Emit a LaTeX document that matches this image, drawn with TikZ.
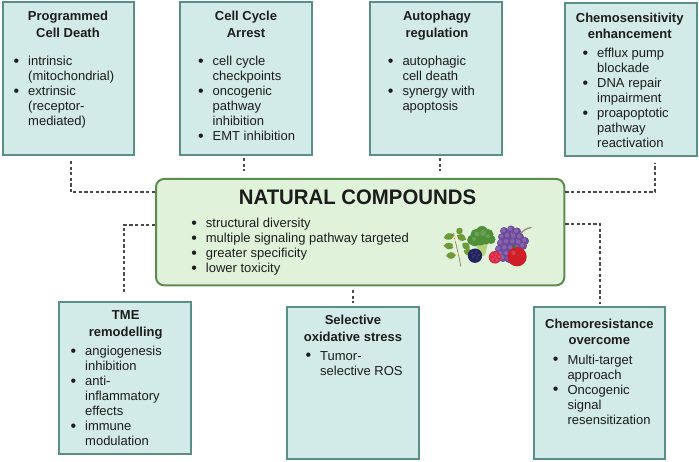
\documentclass[tikz,border=0pt]{standalone}
\usepackage{fontspec}
\setmainfont{Liberation Sans}
\newfontface\corefont[FakeStretch=0.97]{Liberation Sans Bold}
\definecolor{tealfill}{HTML}{D2EBE8}
\definecolor{tealedge}{HTML}{5A8F89}
\definecolor{corefill}{HTML}{E0F3DA}
\definecolor{coreedge}{HTML}{5C8C50}
\definecolor{ink}{HTML}{1C1C1C}
\definecolor{linkink}{HTML}{4A4A4A}
\definecolor{leafgreen}{HTML}{6F9A3A}
\definecolor{brocdark}{HTML}{4F8F3A}
\definecolor{broclight}{HTML}{B5D07A}
\definecolor{berry}{HTML}{23235F}
\definecolor{rasp}{HTML}{DB2B45}
\definecolor{grape}{HTML}{6E4A9A}
\definecolor{grapelight}{HTML}{8565AE}
\definecolor{applered}{HTML}{CF1E28}
\definecolor{twig}{HTML}{A08A72}
% Helpers for the two kinds of text block
\newcommand\ttl[1]{\begin{tabular}[t]{@{}c@{}}#1\end{tabular}}
\newcommand\blist[1]{\begin{tabular}[t]{@{}l@{}}#1\end{tabular}}
\newcommand\bi{\llap{\raisebox{-1pt}{\fontsize{16}{15}\selectfont\textbullet}\hspace{9pt}}}
\tikzset{
  tealbox/.style={draw=tealedge,fill=tealfill,line width=2pt,rectangle,inner sep=0pt},
  corebox/.style={draw=coreedge,fill=corefill,line width=2pt,rectangle,rounded corners=8pt,inner sep=0pt},
  boxtitle/.style={anchor=base,inner sep=0pt,text=ink,font=\fontsize{13}{16.4}\selectfont\bfseries},
  boxbody/.style={anchor=base west,inner sep=0pt,text=ink,font=\fontsize{13}{15}\selectfont},
  link/.style={draw=linkink,line width=2pt,dash pattern=on 3.2pt off 2.4pt},
}
\begin{document}
\begin{tikzpicture}[x=1pt,y=-1pt]
\useasboundingbox (0,0) rectangle (699,462);

% Boxes
\node[tealbox,minimum width=131.5pt,minimum height=152.5pt] (b1) at (68.25,78.75) {};
\node[tealbox,minimum width=131.7pt,minimum height=152.5pt] (b2) at (245.85,78.75) {};
\node[tealbox,minimum width=132.2pt,minimum height=152.5pt] (b3) at (435.6,78.75) {};
\node[tealbox,minimum width=132pt,minimum height=152.2pt] (b4) at (630.7,79.6) {};
\node[corebox,minimum width=408.3pt,minimum height=106.3pt] (core) at (360.15,232.15) {};
\node[tealbox,minimum width=131.7pt,minimum height=152.3pt] (b5) at (125.15,377.85) {};
\node[tealbox,minimum width=131.7pt,minimum height=152.3pt] (b6) at (353.15,383.15) {};
\node[tealbox,minimum width=131.3pt,minimum height=152.3pt] (b7) at (599.65,383.15) {};

% Dashed connectors
\draw[link,shorten <=5pt] ([xshift=2.75pt]b1.south) |- ([yshift=39.65pt]core.west);
\draw[link,shorten <=2pt,shorten >=7pt] ([xshift=-1.5pt]b2.south) -- ([xshift=-1.5pt]b2.south |- core.north);
\draw[link,shorten <=2pt,shorten >=7pt] ([xshift=4.1pt]b3.south) -- ([xshift=4.1pt]b3.south |- core.north);
\draw[link,shorten >=6.5pt] ([yshift=40.15pt]core.east) -| ([xshift=24.3pt]b4.south);
\draw[link,shorten >=6.7pt] ([yshift=7.15pt]core.west) -| ([xshift=-1.15pt]b5.north);
\draw[link,shorten <=3.7pt,shorten >=3pt] (b6.north |- core.south) -- (b6.north);
\draw[link,shorten >=2pt] ([yshift=8.15pt]core.east) -| (b7.north);

% Titles
\node[boxtitle] (t1) at (68,21) {\ttl{Programmed\\Cell Death}};
\node[boxtitle] (t2) at (246,21) {\ttl{Cell Cycle\\Arrest}};
\node[boxtitle] (t3) at (437,21) {\ttl{Autophagy\\regulation}};
\node[boxtitle] (t4) at (629.7,22.5) {\ttl{Chemosensitivity\\enhancement}};
\node[boxtitle] (t5) at (125.7,320) {\ttl{TME\\remodelling}};
\node[boxtitle] (t6) at (353,325) {\ttl{Selective\\oxidative stress}};
\node[boxtitle] (t7) at (599.3,328.3) {\ttl{Chemoresistance\\overcome}};
\node[boxtitle,font=\fontsize{21}{26}\corefont] (tc) at (357.5,205) {NATURAL COMPOUNDS};

% Bullet lists
\node[boxbody] (l1) at (28,66) {\blist{\bi intrinsic\\(mitochondrial)\\\bi extrinsic\\(receptor-\\mediated)}};
\node[boxbody] (l2) at (212.5,66) {\blist{\bi cell cycle\\checkpoints\\\bi oncogenic\\pathway\\inhibition\\\bi EMT inhibition}};
\node[boxbody] (l3) at (402.3,66) {\blist{\bi autophagic\\cell death\\\bi synergy with\\apoptosis}};
\node[boxbody] (l4) at (597,57.7) {\blist{\bi efflux pump\\blockade\\\bi DNA repair\\impairment\\\bi proapoptotic\\pathway\\reactivation}};
\node[boxbody] (l5) at (85,355.7) {\blist{\bi angiogenesis\\inhibition\\\bi anti-\\inflammatory\\effects\\\bi immune\\modulation}};
\node[boxbody] (l6) at (320,360) {\blist{\bi Tumor-\\selective ROS}};
\node[boxbody] (l7) at (567.3,364) {\blist{\bi Multi-target\\approach\\\bi Oncogenic\\signal\\resensitization}};
\node[boxbody] (lc) at (205.7,227.3) {\blist{\bi structural diversity\\\bi multiple signaling pathway targeted\\\bi greater specificity\\\bi lower toxicity}};

% Fruit and herb illustration
% herb sprig
\draw[twig!80!leafgreen,line width=0.8pt] (453.5,233) .. controls (456,245) and (459,255) .. (460.7,266.5);
\foreach \px/\py/\ang/\ll in {449/236.5/15/5.5,459.5/231/-35/3.5,461.5/237.5/-25/5,449/246/-5/5.5,466/246/-35/4.5,451/255.5/5/5,468/252/-15/4.5}
  \fill[leafgreen,rotate around={\ang:(\px,\py)}] (\px-\ll,\py) .. controls (\px-2,\py-4.5) and (\px+2,\py-4.5) .. (\px+\ll,\py) .. controls (\px+2,\py+4.5) and (\px-2,\py+4.5) .. (\px-\ll,\py) -- cycle;
\foreach \px/\py in {456/240,454/246,457/254,461/255,455.5/237}
  {\fill[white!85!yellow] (\px,\py) circle (1.7pt); \fill[orange!70!yellow] (\px,\py) circle (0.6pt);}
% broccoli
\fill[broclight] (475,242) -- (488,242) -- (485.5,254) .. controls (484,257) and (480,257) .. (479,253) -- cycle;
\foreach \px/\py/\rr in {472.5/240/5.4,476/234.5/5.5,482/232/6,488/234.5/5.5,491/239.5/4.5,480/239/6.5,486/240/4.5,475/243/3.5}
  \fill[brocdark] (\px,\py) circle (\rr pt);
\foreach \px/\py/\rr in {477/234/2.5,483/233/3,488/236/2,474/239/2}
  \fill[brocdark!85!white] (\px,\py) circle (\rr pt);
% blackberry
\fill[berry] (475,255.7) circle (7.2pt);
\foreach \px/\py in {472/253,476/252,479/255,473/257,477/258,475/255}
  \fill[berry!80!white] (\px,\py) circle (0.8pt);
% grapes
\draw[twig,line width=1.3pt] (519,236) .. controls (522,231) and (526,228) .. (531.5,227.5);
\foreach \px/\py in {504/231,511/229.5,517/231.5,502/237,508/236,514/236.5,520/237,525/241,501/243,507/242,513/242,519/242.5,523/246,499/249,505/248,511/248,517/248,501/254,507/254,503/258,509/259}
  {\fill[grape] (\px,\py) circle (4pt); \fill[grapelight] (\px-0.8,\py-0.8) circle (2.2pt);}
% raspberry
\fill[rasp] (495,257.3) circle (6.3pt);
\foreach \px/\py in {492/255,496/254,499/257,493/259,497/260,495/257}
  \fill[rasp!75!white] (\px,\py) circle (0.8pt);
% apple
\fill[applered] (517,256.7) circle (9.7pt);
\fill[applered!85!white] (513.5,253) circle (2.2pt);
\fill[leafgreen!70!black] (512,245) .. controls (514,244.5) and (516,246) .. (516.5,249) .. controls (514,249) and (512.5,247.5) .. (512,245) -- cycle;
\end{tikzpicture}
\end{document}
